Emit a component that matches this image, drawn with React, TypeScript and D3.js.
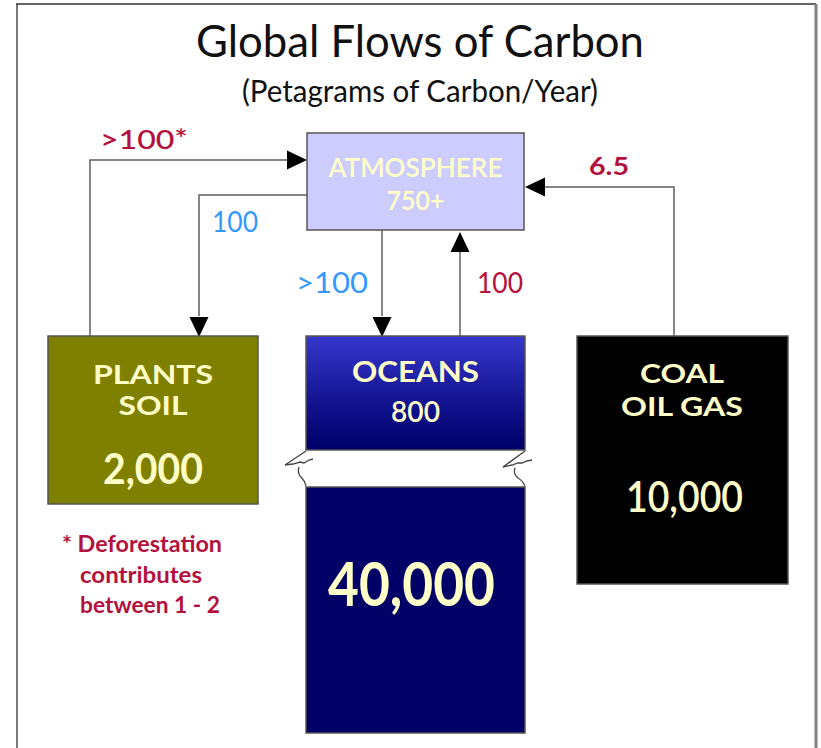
import * as d3 from "d3";
import React from "react";

// reservoirs (Petagrams of Carbon)
const reservoirNames = ["ATMOSPHERE", "PLANTS|SOIL", "OCEANS", "COAL|OIL GAS"];
const reservoirValues = ["750+", "2,000", "800", "10,000"];
const deepOceanValue = "40,000";

// flows between reservoirs (Petagrams of Carbon / Year)
const flowLabels = [">100*", "100", ">100", "100", "6.5"];
const flowFrom = ["PLANTS|SOIL", "ATMOSPHERE", "ATMOSPHERE", "OCEANS", "COAL|OIL GAS"];
const flowTo = ["ATMOSPHERE", "PLANTS|SOIL", "OCEANS", "ATMOSPHERE", "ATMOSPHERE"];
const flowColors = ["#b3103d", "#3399ff", "#3399ff", "#b3103d", "#b3103d"];

const footnote = ["* Deforestation", "contributes", "between 1 - 2"];

const W = 821;
const H = 748;
const FONT = "Lato, 'Open Sans', sans-serif";
const TXT = "#ffffc8";
const LINE = "#5e5e5e";

type Box = { x: number; y: number; w: number; h: number; fill: string };
const boxes: Record<string, Box> = {
  ATMOSPHERE: { x: 307, y: 133, w: 217, h: 97, fill: "#ccccff" },
  "PLANTS|SOIL": { x: 48, y: 336, w: 210, h: 168, fill: "#808000" },
  OCEANS: { x: 306, y: 336, w: 219, h: 114, fill: "url(#oceanGrad)" },
  "COAL|OIL GAS": { x: 577, y: 336, w: 211, h: 248, fill: "#000000" },
};
const deep = { x: 306, y: 487, w: 219, h: 246 };

// connector routes: [points...] and direction of arrow at the end
const routes = [
  { pts: [[90, 336], [90, 160], [289, 160]], head: "right", tip: [307, 160] },
  { pts: [[307, 195], [199, 195], [199, 316]], head: "down", tip: [199, 337] },
  { pts: [[382, 230], [382, 316]], head: "down", tip: [382, 337] },
  { pts: [[460, 336], [460, 252]], head: "up", tip: [460, 232] },
  { pts: [[674, 336], [674, 187], [545, 187]], head: "left", tip: [525, 187] },
];

const labelPos = [
  { x: 100, y: 149, w: 88, size: 26, weight: 500 },
  { x: 212, y: 232, w: 46, size: 28, weight: 400 },
  { x: 296, y: 293, w: 72, size: 28, weight: 400 },
  { x: 477, y: 293, w: 46, size: 28, weight: 400 },
  { x: 589, y: 175, w: 40, size: 25, weight: 700 },
];

const arrowHead = (tip: number[], dir: string) => {
  const [x, y] = tip;
  const L = 20;
  const hw = 9.5;
  const p = d3.path();
  if (dir === "right") {
    p.moveTo(x, y); p.lineTo(x - L, y - hw); p.lineTo(x - L, y + hw);
  } else if (dir === "left") {
    p.moveTo(x, y); p.lineTo(x + L, y - hw); p.lineTo(x + L, y + hw);
  } else if (dir === "down") {
    p.moveTo(x, y); p.lineTo(x - hw, y - L); p.lineTo(x + hw, y - L);
  } else {
    p.moveTo(x, y); p.lineTo(x - hw, y + L); p.lineTo(x + hw, y + L);
  }
  p.closePath();
  return p.toString();
};

const line = d3.line<number[]>().x((d) => d[0]).y((d) => d[1]);

const T = ({ x, y, w, size, fill, weight = 700, anchor = "middle", children }: any) => (
  <text
    x={x}
    y={y}
    fontSize={size}
    fontWeight={weight}
    fill={fill}
    textAnchor={anchor}
    textLength={w}
    lengthAdjust="spacingAndGlyphs"
    fontFamily={FONT}
  >
    {children}
  </text>
);

export default function App() {
  const atm = boxes.ATMOSPHERE;
  const pl = boxes["PLANTS|SOIL"];
  const oc = boxes.OCEANS;
  const co = boxes["COAL|OIL GAS"];
  const cx = (b: any) => b.x + b.w / 2;

  // torn break marks beside the ocean gap
  const breakLeft = "M306,451 L285,465 L293,464 L300,462 L304,463 L309,460 L313,459 M299,467 Q297,473 301,477 Q305,481 306,486";
  const breakRight = "M525,451 L503,467 L512,465 L518,463 L522,463 L527,461 L532,460 M515,468 Q513,474 518,478 Q523,481 525,486";

  return (
    <svg width={W} height={H} style={{ position: "absolute", left: 0, top: 0, background: "#fff" }}>
      <defs>
        <linearGradient id="oceanGrad" x1="0" y1="0" x2="0" y2="1">
          <stop offset="0%" stopColor="#3636cc" />
          <stop offset="60%" stopColor="#12128f" />
          <stop offset="100%" stopColor="#000068" />
        </linearGradient>
      </defs>

      {/* frame */}
      <line x1={17} y1={4} x2={17} y2={H} stroke="#7a7a7a" strokeWidth={2} />
      <line x1={16} y1={4} x2={816} y2={4} stroke="#333" strokeWidth={1.5} />
      <line x1={816} y1={4} x2={816} y2={H} stroke="#808080" strokeWidth={3} />

      {/* titles */}
      <T x={420} y={57} w={448} size={45} fill="#111" weight={400}>Global Flows of Carbon</T>
      <T x={420} y={102} w={356} size={30} fill="#111" weight={400}>(Petagrams of Carbon/Year)</T>

      {/* connectors */}
      {routes.map((r, i) => (
        <g key={flowFrom[i] + flowTo[i] + i}>
          <path d={line(r.pts as any) || ""} fill="none" stroke={LINE} strokeWidth={1.5} />
          <path d={arrowHead(r.tip, r.head)} fill="#000" />
        </g>
      ))}
      {flowLabels.map((lab, i) => (
        <T key={i} x={labelPos[i].x} y={labelPos[i].y} w={labelPos[i].w} size={labelPos[i].size}
          fill={flowColors[i]} weight={labelPos[i].weight} anchor="start">{lab}</T>
      ))}

      {/* reservoirs */}
      {reservoirNames.map((n) => {
        const b = boxes[n];
        return (
          <rect key={n} x={b.x} y={b.y} width={b.w} height={b.h} fill={b.fill} stroke="#555" strokeWidth={1.5} />
        );
      })}
      <rect x={deep.x} y={deep.y} width={deep.w} height={deep.h} fill="#000066" stroke="#555" strokeWidth={1.5} />
      <path d={breakLeft} fill="none" stroke="#444" strokeWidth={1.3} />
      <path d={breakRight} fill="none" stroke="#444" strokeWidth={1.3} />

      {/* atmosphere */}
      <T x={cx(atm)} y={177} w={174} size={27} fill={TXT} weight={600}>{reservoirNames[0]}</T>
      <T x={cx(atm)} y={210} w={58} size={27} fill={TXT} weight={600}>{reservoirValues[0]}</T>

      {/* plants soil */}
      <T x={cx(pl)} y={384} w={120} size={27} fill={TXT}>{reservoirNames[1].split("|")[0]}</T>
      <T x={cx(pl)} y={415} w={69} size={27} fill={TXT}>{reservoirNames[1].split("|")[1]}</T>
      <T x={cx(pl)} y={484} w={100} size={42} fill={TXT}>{reservoirValues[1]}</T>

      {/* oceans */}
      <T x={cx(oc)} y={382} w={127} size={28} fill={TXT}>{reservoirNames[2]}</T>
      <T x={cx(oc)} y={422} w={49} size={28} fill={TXT} weight={600}>{reservoirValues[2]}</T>
      <T x={cx(oc) - 4} y={606} w={167} size={61} fill={TXT}>{deepOceanValue}</T>

      {/* fossil */}
      <T x={682} y={383} w={84} size={27} fill={TXT}>{reservoirNames[3].split("|")[0]}</T>
      <T x={682} y={416} w={122} size={27} fill={TXT}>{reservoirNames[3].split("|")[1]}</T>
      <T x={cx(co) + 2} y={512} w={117} size={43} fill={TXT} weight={600}>{reservoirValues[3]}</T>

      {/* footnote */}
      {footnote.map((f, i) => (
        <T key={f} x={i === 0 ? 62 : 80} y={552 + i * 30.5} w={[160, 122, 140][i]} size={22}
          fill="#b3103d" anchor="start">{f}</T>
      ))}
    </svg>
  );
}
